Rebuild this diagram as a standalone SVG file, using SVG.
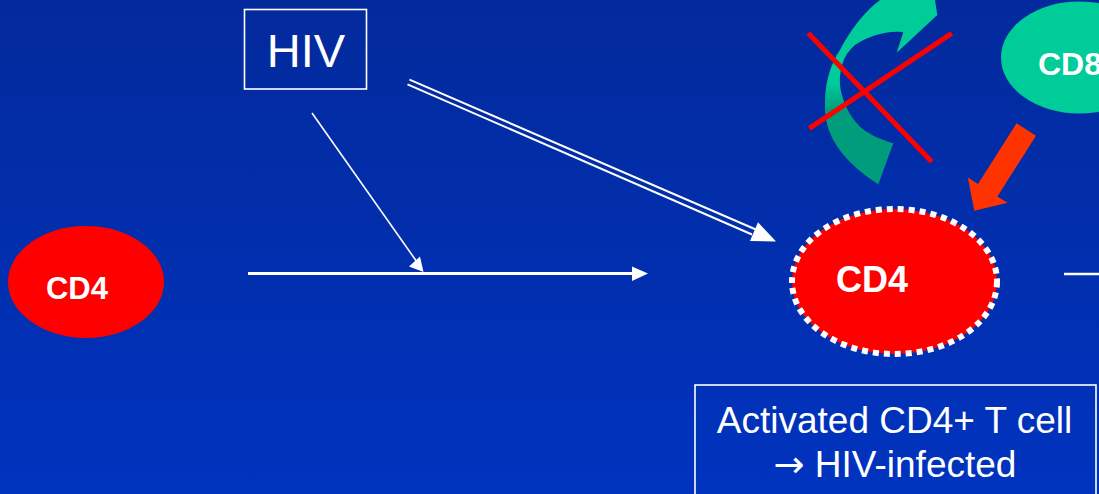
<svg xmlns="http://www.w3.org/2000/svg" width="1099" height="494" viewBox="0 0 1099 494">
<defs>
<linearGradient id="bg" x1="0" y1="0" x2="0" y2="1">
<stop offset="0" stop-color="#032a9c"/>
<stop offset="1" stop-color="#0033bf"/>
</linearGradient>
<linearGradient id="green" x1="0" y1="0" x2="0" y2="1">
<stop offset="0.45" stop-color="#00cc99"/>
<stop offset="0.6" stop-color="#009c7c"/>
</linearGradient>
<style>
.lbl{font-family:"Liberation Sans",Arial,sans-serif;fill:#fff}
.b{font-weight:bold}
.wl{stroke:#fff;fill:none}
.wf{fill:#fff}
.box{fill:none;stroke:#fff;stroke-width:1.6}
.arr{font-family:"DejaVu Sans",sans-serif}
</style>
</defs>
<rect x="0" y="0" width="1099" height="494" fill="url(#bg)"/>

<g id="connectors">
<line class="wl" x1="248" y1="273.5" x2="634" y2="273.5" stroke-width="3"/>
<polygon class="wf" points="632,266.5 648,273.5 632,281"/>
<line class="wl" x1="312" y1="113" x2="417" y2="262" stroke-width="1.6"/>
<polygon class="wf" points="409,266.5 423.5,272 420,256.5"/>
<line class="wl" x1="409.5" y1="79.7" x2="757" y2="230" stroke-width="2"/>
<line class="wl" x1="407.5" y1="84.3" x2="752" y2="234.5" stroke-width="2"/>
<polygon class="wf" points="758,222.3 776,241.5 750,241"/>
<line class="wl" x1="1064" y1="274" x2="1099" y2="274" stroke-width="2.5"/>
<polygon id="kill-arrow" fill="#ff3300" points="1016.6,123.3 1036,135.7 997.4,196.4 1007.6,202.8 974.3,210.7 967.8,177.6 978,184"/>
</g>

<g id="cycle-arrow">
<path fill="url(#green)" d="M878.3,184.3 C848,165 826,140 825,110 C824,85 830,65 840,50 C850,30 866,10 880,0 L935,0 L937.3,15 L896.7,52.7 L903.3,32.3 C888,30 868,36 855,45 C843,55 839,70 840,85 C842,105 855,125 867,132 C876,138 886,141 893.3,143.3 Z"/>
<line x1="808.3" y1="33.3" x2="931.7" y2="161.7" stroke="#ff0000" stroke-width="5"/>
<line x1="951.7" y1="33.3" x2="809.3" y2="128.3" stroke="#ff0000" stroke-width="5"/>
</g>

<g id="hiv">
<rect class="box" x="244.5" y="9.5" width="122" height="79.5"/>
<text class="lbl" x="306" y="67" font-size="47" text-anchor="middle">HIV</text>
</g>

<g id="cd4-resting">
<ellipse cx="86" cy="282" rx="78" ry="56" fill="#ff0000"/>
<text class="lbl b" x="77" y="299" font-size="31" text-anchor="middle">CD4</text>
</g>

<g id="cd8">
<ellipse cx="1079" cy="57.5" rx="78" ry="56" fill="#00cc99"/>
<text class="lbl b" x="1038" y="75" font-size="32">CD8</text>
</g>

<g id="cd4-infected">
<ellipse cx="894.5" cy="281.5" rx="102.5" ry="72.5" fill="#ff0000" stroke="#fff" stroke-width="6" stroke-dasharray="6 5"/>
<text class="lbl b" x="872" y="291.5" font-size="36" text-anchor="middle">CD4</text>
</g>

<g id="caption">
<rect class="box" x="695" y="385" width="401" height="120"/>
<text class="lbl" x="894.5" y="432.7" font-size="37" text-anchor="middle">Activated CD4+ T cell</text>
<text class="lbl" x="895" y="476.7" font-size="37" text-anchor="middle"><tspan class="arr">→</tspan> HIV-infected</text>
</g>
</svg>
